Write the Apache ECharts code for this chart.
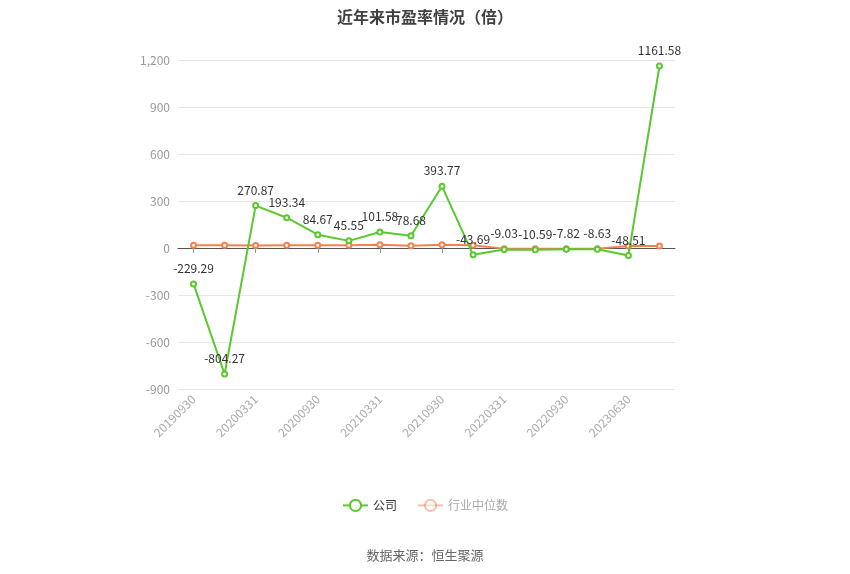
<!DOCTYPE html>
<html>
<head>
<meta charset="utf-8">
<script src="https://cdn.jsdelivr.net/npm/echarts@6/dist/echarts.min.js"></script>
<style>html,body{margin:0;padding:0;background:#fff;}#c{width:850px;height:574px;}</style>
</head>
<body>
<div id="c"></div>
<script>
var categories = ['20190930','20191231','20200331','20200630','20200930','20201231','20210331','20210630','20210930','20211231','20220331','20220630','20220930','20221231','20230630','20230930'];
var companyPE = [-229.29,-804.27,270.87,193.34,84.67,45.55,101.58,78.68,393.77,-43.69,-9.03,-10.59,-7.82,-8.63,-48.51,1161.58];
var industryPE = [17,17,16,17,17,17,20,15,20,18,-4,-5,-4,-4,13,13];
var yTicks = {min:-900, max:1200, interval:300};

var chart = echarts.init(document.getElementById('c'));
var font = '"Microsoft YaHei","Noto Sans CJK SC",sans-serif';
chart.setOption({
  animation:false,
  textStyle:{fontFamily:font},
  title:{text:'近年来市盈率情况（倍）', left:'center', top:4, textStyle:{fontSize:16, fontWeight:'bold', color:'#404040', fontFamily:font}},
  graphic:[{type:'text', left:'center', top:549, style:{text:'数据来源：恒生聚源', fill:'#666', font:'13px '+font}}],
  legend:{bottom:57, left:'center', itemWidth:25, itemHeight:14, itemGap:20, textStyle:{fontSize:12, color:'#333'},
    data:[{name:'公司'},{name:'行业中位数', textStyle:{color:'#aaa'},
      itemStyle:{opacity:0.5}, lineStyle:{opacity:0.5}}]},
  grid:{left:178, right:175, top:60, bottom:185},
  xAxis:[{type:'category', data:categories, boundaryGap:true,
    axisLine:{onZero:true, lineStyle:{color:'#555'}},
    axisTick:{show:true, interval:1, alignWithLabel:true, lineStyle:{color:'#999'}},
    axisLabel:{show:false}},
   {type:'category', data:categories, position:'bottom', boundaryGap:true,
    axisLine:{show:false, onZero:false}, axisTick:{show:false},
    axisLabel:{interval:1, rotate:45, color:'#aaa', fontSize:12, margin:8}}],
  yAxis:{type:'value', min:yTicks.min, max:yTicks.max, interval:yTicks.interval,
    axisLine:{show:false}, axisTick:{show:false},
    axisLabel:{color:'#999', fontSize:12},
    splitLine:{lineStyle:{color:'#e3e6f0'}}},
  series:[
    {name:'公司', type:'line', data:companyPE, symbol:'emptyCircle', symbolSize:5, z:3,
     itemStyle:{color:'#5ac82e'}, lineStyle:{width:2, color:'#5ac82e'},
     label:{show:true, position:'top', color:'#333', fontSize:12, distance:6}},
    {name:'行业中位数', type:'line', data:industryPE, symbol:'emptyCircle', symbolSize:5, z:2,
     itemStyle:{color:'#f5804f'}, lineStyle:{width:2, color:'#f5804f'}}
  ]
});
</script>
</body>
</html>
